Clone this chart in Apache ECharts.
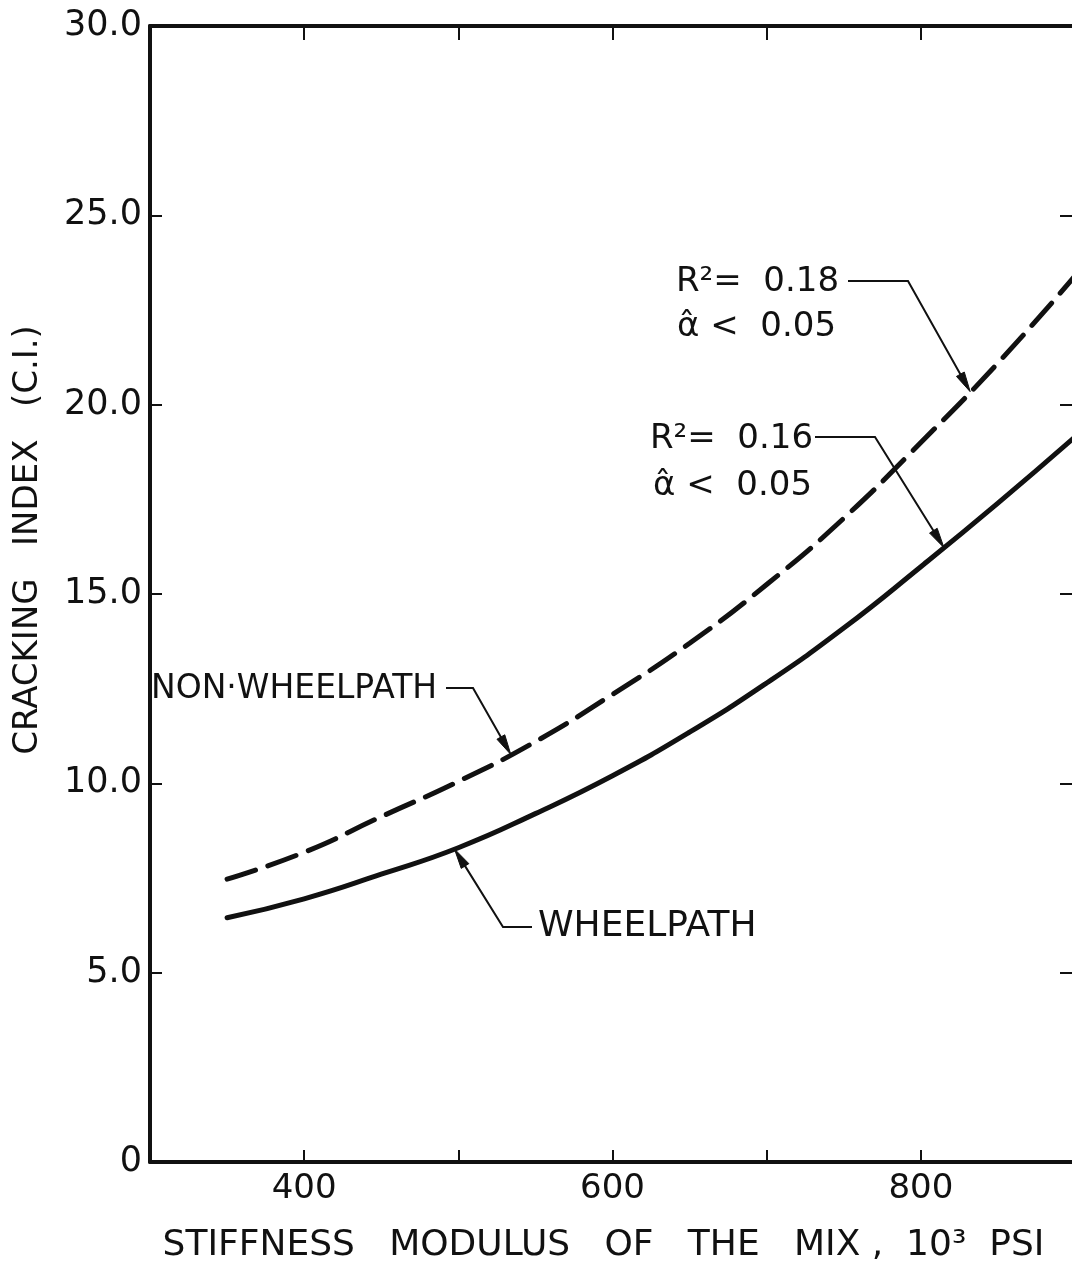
<!DOCTYPE html>
<html>
<head>
<meta charset="utf-8">
<script src="https://cdn.jsdelivr.net/npm/echarts@6/dist/echarts.min.js"></script>
<style>
  html, body { margin: 0; padding: 0; background: #ffffff; }
  #chart { width: 1072px; height: 1269px; }
</style>
</head>
<body>
<div id="chart"></div>
<script>
// Stiffness modulus of the mix (10^3 psi) and fitted cracking index curves
const stiffness = [350, 400, 450, 500, 550, 600, 650, 700, 750, 800, 850, 900];
const ciNonWheelpath = [7.47, 8.18, 9.12, 10.05, 11.1, 12.35, 13.7, 15.25, 17.0, 19.0, 21.1, 23.4];
const ciWheelpath = [6.45, 6.95, 7.6, 8.3, 9.2, 10.2, 11.35, 12.65, 14.1, 15.72, 17.4, 19.15];

// Tick labels
const xLabelValues = [400, 600, 800];
const yLabelValues = [0, 5, 10, 15, 20, 25, 30];

const INK = '#111111';
const FONT = '"DejaVu Sans", "Liberation Sans", sans-serif';

const chart = echarts.init(document.getElementById('chart'), null, { renderer: 'canvas' });

function frameAxis(extra, tickLen) {
  return Object.assign({
    axisLine: { show: true, onZero: false, lineStyle: { color: INK, width: 4 } },
    axisTick: { show: true, inside: true, length: tickLen || 12, lineStyle: { color: INK, width: 2 } },
    splitLine: { show: false }
  }, extra);
}

chart.setOption({
  backgroundColor: '#ffffff',
  animation: false,
  grid: { left: 150, top: 26, width: 925, height: 1136, containLabel: false, outerBoundsMode: 'none' },
  xAxis: [
    frameAxis({
      type: 'value', position: 'bottom', min: 300, max: 900, interval: 100,
      axisLabel: {
        color: INK, fontFamily: FONT, fontSize: 34, margin: 10,
        formatter: v => xLabelValues.includes(v) ? String(v) : ''
      },
      name: 'STIFFNESS   MODULUS   OF   THE   MIX ,  10³  PSI',
      nameLocation: 'middle', nameGap: 66,
      nameTextStyle: { color: INK, fontFamily: FONT, fontSize: 36, padding: [0, 18, 0, 0] }
    }),
    frameAxis({
      type: 'value', position: 'top', min: 300, max: 900, interval: 100,
      axisLabel: { show: false }
    }, 14)
  ],
  yAxis: [
    frameAxis({
      type: 'value', position: 'left', min: 0, max: 30, interval: 5,
      axisLabel: {
        color: INK, fontFamily: FONT, fontSize: 35, margin: 8,
        formatter: v => yLabelValues.includes(v) ? (v === 0 ? '0' : v.toFixed(1)) : ''
      }
    }),
    frameAxis({
      type: 'value', position: 'right', min: 0, max: 30, interval: 5,
      axisLabel: { show: false }
    }, 15)
  ],
  series: [
    {
      name: 'NON-WHEELPATH', type: 'line', smooth: true, symbol: 'none',
      data: stiffness.map((x, i) => [x, ciNonWheelpath[i]]),
      lineStyle: { color: INK, width: 5, type: [30, 13], cap: 'round' }
    },
    {
      name: 'WHEELPATH', type: 'line', smooth: true, symbol: 'none',
      data: stiffness.map((x, i) => [x, ciWheelpath[i]]),
      lineStyle: { color: INK, width: 5, cap: 'round' }
    }
  ]
});

// Value on a curve at a given stiffness (linear between stored points)
function curveAt(ys, x) {
  for (let i = 0; i < stiffness.length - 1; i++) {
    if (x >= stiffness[i] && x <= stiffness[i + 1]) {
      const t = (x - stiffness[i]) / (stiffness[i + 1] - stiffness[i]);
      return ys[i] + t * (ys[i + 1] - ys[i]);
    }
  }
  return ys[ys.length - 1];
}

// Callouts: text block, leader start/elbow (pixels) and the curve point the arrow lands on
const callouts = [
  { curve: ciNonWheelpath, atX: 832, start: [848, 281], elbow: [908, 281],
    texts: [ { t: 'R²=  0.18', x: 676, y: 282, size: 34 }, { t: 'α̂ <  0.05', x: 677, y: 327, size: 34 } ] },
  { curve: ciWheelpath, atX: 815, start: [815, 437], elbow: [875, 437],
    texts: [ { t: 'R²=  0.16', x: 650, y: 439, size: 34 }, { t: 'α̂ <  0.05', x: 653, y: 486, size: 34 } ] },
  { curve: ciNonWheelpath, atX: 534, start: [446, 688], elbow: [473, 688],
    texts: [ { t: 'NON·WHEELPATH', x: 151, y: 689, size: 33 } ] },
  { curve: ciWheelpath, atX: 497.5, start: [532, 927], elbow: [503, 927],
    texts: [ { t: 'WHEELPATH', x: 538, y: 927, size: 36 } ] }
];

const graphics = [];
callouts.forEach(c => {
  const tip = chart.convertToPixel({ gridIndex: 0 }, [c.atX, curveAt(c.curve, c.atX)]);
  const dx = tip[0] - c.elbow[0], dy = tip[1] - c.elbow[1];
  const len = Math.hypot(dx, dy);
  const ux = dx / len, uy = dy / len;
  const head = 20, half = 4.5;
  const bx = tip[0] - ux * head, by = tip[1] - uy * head;
  graphics.push({
    type: 'polyline', silent: true, z: 10,
    shape: { points: [c.start, c.elbow, [bx + ux * 4, by + uy * 4]] },
    style: { stroke: INK, lineWidth: 2, fill: null }
  });
  graphics.push({
    type: 'polygon', silent: true, z: 10,
    shape: { points: [tip, [bx - uy * half, by + ux * half], [bx + uy * half, by - ux * half]] },
    style: { fill: INK, stroke: INK, lineWidth: 1 }
  });
  c.texts.forEach(tx => {
    graphics.push({
      type: 'text', silent: true, z: 10,
      x: tx.x, y: tx.y,
      style: {
        text: tx.t, fill: INK, align: 'left', verticalAlign: 'middle',
        font: 'normal ' + (tx.size || 33) + 'px ' + FONT
      }
    });
  });
});

// Vertical axis title, reading bottom to top
graphics.push({
  type: 'text', silent: true, z: 10,
  x: 28, y: 540, rotation: Math.PI / 2,
  style: {
    text: 'CRACKING   INDEX   (C.I.)', fill: INK, align: 'center', verticalAlign: 'middle',
    font: 'normal 34px ' + FONT
  }
});

chart.setOption({ graphic: graphics });
</script>
</body>
</html>
